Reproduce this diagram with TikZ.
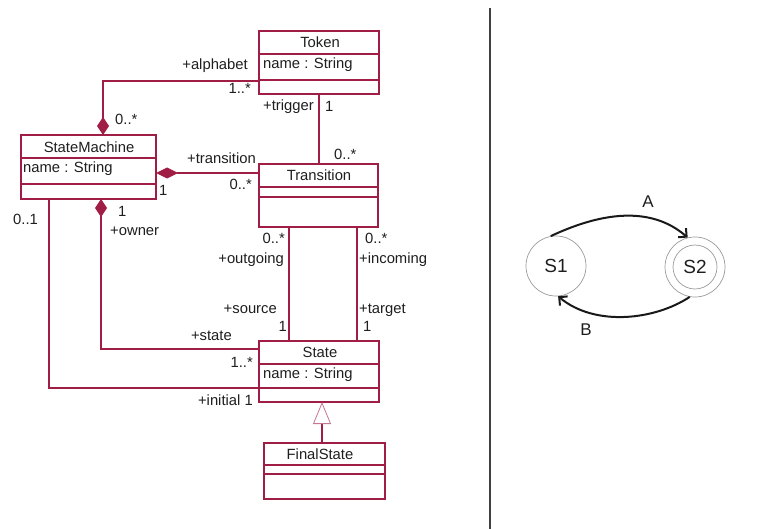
\documentclass[tikz,border=0pt]{standalone}
\usepackage{fontspec}
\setmainfont{Liberation Sans}
\usetikzlibrary{arrows.meta}
\definecolor{umlred}{RGB}{160,30,70}
\definecolor{txt}{RGB}{30,30,30}
\begin{document}
\begin{tikzpicture}[x=1pt,y=-1pt,
  box/.style={draw=umlred, line width=1.3pt, anchor=north west, inner sep=0pt, outer sep=0pt},
  sep/.style={draw=umlred, line width=1.3pt},
  assoc/.style={draw=umlred, line width=1.3pt},
  lab/.style={inner sep=0pt, text=txt, font=\fontsize{14.8}{16}\selectfont},
  st/.style={circle, draw=gray!80, line width=0.7pt, minimum size=60pt, inner sep=0pt},
  tr/.style={draw=black!90, line width=2pt, -{Straight Barb[length=6pt,width=12pt]}},
  big/.style={inner sep=0pt, text=txt, font=\fontsize{19}{21}\selectfont}
]
\useasboundingbox (0,0) rectangle (767,529);
% class boxes
\node[box, minimum width=120pt, minimum height=63pt] (token) at (259,31) {};
\draw[sep] (259,54) -- (379,54) (259,80) -- (379,80);
\node[lab, anchor=base] (tokent) at (320,48) {Token};
\node[lab, anchor=base west] (tokena) at (263,69) {name : String};

\node[box, minimum width=135pt, minimum height=64pt] (sm) at (21,135) {};
\draw[sep] (21,158) -- (156,158) (21,184) -- (156,184);
\node[lab, anchor=base] (smt) at (89,153) {StateMachine};
\node[lab, anchor=base west] (sma) at (23,173) {name : String};

\node[box, minimum width=119pt, minimum height=63pt] (trans) at (259,164) {};
\draw[sep] (259,187) -- (378,187) (259,197) -- (378,197);
\node[lab, anchor=base] (transt) at (319,181) {Transition};

\node[box, minimum width=120pt, minimum height=61pt] (state) at (259,341) {};
\draw[sep] (259,364) -- (379,364) (259,388) -- (379,388);
\node[lab, anchor=base] (statet) at (320,357) {State};
\node[lab, anchor=base west] (statea) at (263,378) {name : String};

\node[box, minimum width=121pt, minimum height=56pt] (final) at (264,443) {};
\draw[sep] (264,465) -- (385,465) (264,474) -- (385,474);
\node[lab, anchor=base] (finalt) at (320,459) {FinalState};

% connector helper coordinates
\coordinate (a1) at (103,81);
\coordinate (t1) at (200,173);
\coordinate (g1) at (319,0);
\coordinate (o1) at (101,349);
\coordinate (i1) at (49,388);
\coordinate (og) at (289,0);
\coordinate (ic) at (357,0);
\coordinate (ge) at (322,0);

\draw[assoc, {Diamond[length=18pt,width=12pt]}-] (sm.north -| a1) -- (a1) -- (token.west |- a1);
\draw[assoc, {Diamond[length=22pt,width=11pt]}-] (sm.east |- t1) -- (trans.west |- t1);
\draw[assoc] (token.south -| g1) -- (trans.north -| g1);
\draw[assoc, {Diamond[length=18pt,width=12pt]}-] (sm.south -| o1) -- (o1) -- (state.west |- o1);
\draw[assoc] (sm.south -| i1) -- (i1) -- (state.west |- i1);
\draw[assoc] (trans.south -| og) -- (state.north -| og);
\draw[assoc] (trans.south -| ic) -- (state.north -| ic);
\draw[assoc, {Triangle[open, length=22pt, width=18pt, line width=0.8pt, color=umlred!60, fill=white]}-] (state.south -| ge) -- (final.north -| ge);

% role and multiplicity labels
\node[lab, anchor=base east] (l1) at (248,70) {+alphabet};
\node[lab, anchor=base east] (l2) at (251,94) {1..*};
\node[lab, anchor=base west] (l3) at (263,111) {+trigger};
\node[lab, anchor=base west] (l4) at (325,112) {1};
\node[lab, anchor=base west] (l5) at (115,125) {0..*};
\node[lab, anchor=base east] (l6) at (256,164) {+transition};
\node[lab, anchor=base west] (l7) at (334,160) {0..*};
\node[lab, anchor=base east] (l8) at (252,190) {0..*};
\node[lab, anchor=base west] (l9) at (159,196) {1};
\node[lab, anchor=base west] (l10) at (118,217) {1};
\node[lab, anchor=base west] (l11) at (110,235) {+owner};
\node[lab, anchor=base west] (l12) at (13,224) {0..1};
\node[lab, anchor=base east] (l13) at (285,243) {0..*};
\node[lab, anchor=base east] (l14) at (284,263) {+outgoing};
\node[lab, anchor=base west] (l15) at (365,243) {0..*};
\node[lab, anchor=base west] (l16) at (359,263) {+incoming};
\node[lab, anchor=base east] (l17) at (277,313) {+source};
\node[lab, anchor=base east] (l18) at (287,331) {1};
\node[lab, anchor=base west] (l19) at (359,313) {+target};
\node[lab, anchor=base west] (l20) at (363,331) {1};
\node[lab, anchor=base east] (l21) at (232,340) {+state};
\node[lab, anchor=base east] (l22) at (253,367) {1..*};
\node[lab, anchor=base east] (l23) at (253,405) {+initial 1};

% divider
\coordinate (d1) at (490,8);
\coordinate (d2) at (490,529);
\draw[black!75, line width=1.6pt] (d1) -- (d2);

% automaton
\node[st, big] (s1) at (556,266) {S1};
\node[st, big] (s2) at (695,267) {};
\node[circle, draw=gray!80, line width=0.7pt, minimum size=44pt, inner sep=0pt] (s2in) at (s2) {};
\node[big] (s2t) at (s2) {S2};
\draw[tr] (s1.100) .. controls (600,213) and (650,205) .. (s2.104);
\draw[tr] (s2.-100) .. controls (655,320) and (595,327) .. (s1.-86);
\node[big, font=\fontsize{17}{19}\selectfont] (la) at (648,202) {A};
\node[big, font=\fontsize{17}{19}\selectfont] (lb) at (586,330) {B};
\end{tikzpicture}
\end{document}
